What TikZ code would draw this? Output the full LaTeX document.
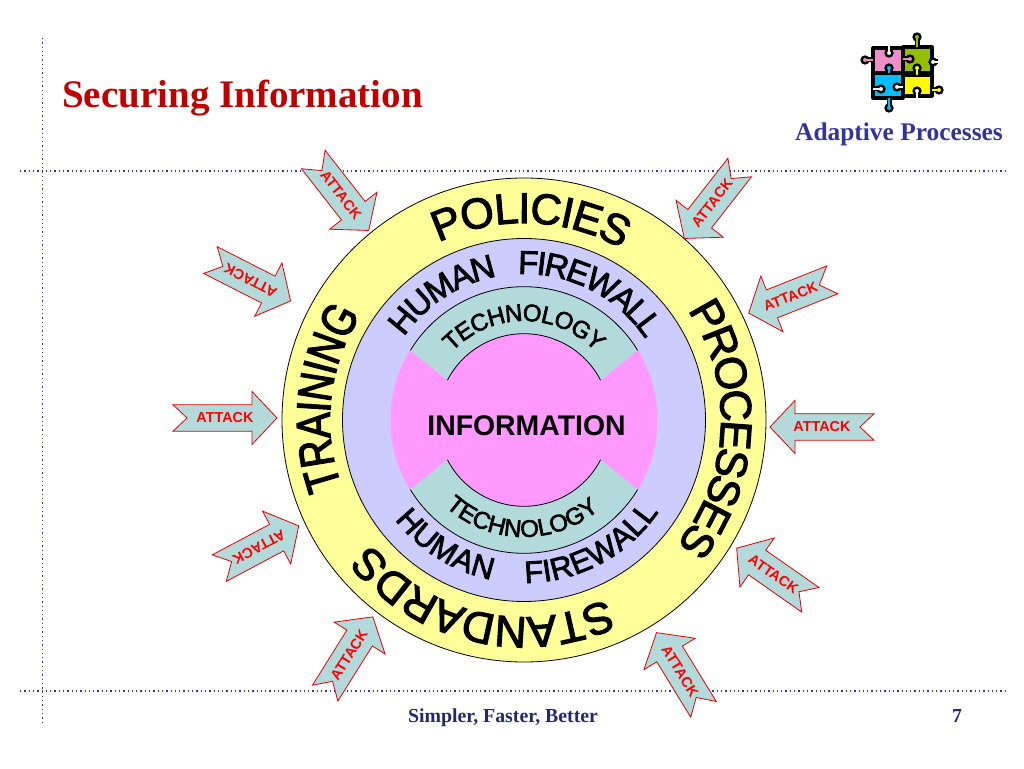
\documentclass[tikz,border=0pt]{standalone}
\usepackage{fontspec}
\setmainfont{Liberation Serif}
\newfontfamily\labelfont{Liberation Sans}
\newfontfamily\ringfont[FakeBold=2.5]{Liberation Sans}
\newfontfamily\ringnarrow[FakeBold=2.5,FakeStretch=0.8]{Liberation Sans}
\usepackage{xcolor}
\usetikzlibrary{calc}
\definecolor{titlered}{RGB}{192,0,0}
\definecolor{slateblue}{RGB}{51,51,153}
\definecolor{footblue}{RGB}{38,38,110}
\definecolor{ringyellow}{RGB}{255,255,153}
\definecolor{ringlav}{RGB}{204,204,255}
\definecolor{corepink}{RGB}{255,153,255}
\definecolor{techteal}{RGB}{178,218,218}
\definecolor{puzpink}{RGB}{240,140,200}
\definecolor{puzgreen}{RGB}{150,190,0}
\definecolor{puzblue}{RGB}{0,190,250}
\definecolor{puzyellow}{RGB}{255,250,0}
\tikzset{
  dotline/.style={slateblue, line width=1.3pt, dash pattern=on 1.3pt off 3pt},
  ring/.style={draw=black, line width=0.8pt},
  attackbody/.style={draw=red!90!black, fill=techteal, line width=0.8pt, line join=miter},
  attacklabel/.style={text=red, font=\labelfont\bfseries\fontsize{14.4}{15}\selectfont, inner sep=0pt},
  piece/.style={draw=black, line width=3.2pt, line join=round},
  knob/.style={draw=black, line width=2.4pt},
}
% letters set one by one round the rings:
% name, radius, middle angle, sign (1 clockwise, -1 counter), size, tracking, letters
\newlength{\ringw}
\newcommand{\ringmeasure}[2]{%
  \settowidth{\ringw}{\pgfinterruptpicture\ringfont\fontsize{#1}{#1}\selectfont #2\endpgfinterruptpicture}}
\newcommand{\ringword}[7]{
  \gdef\ringtotal{0}
  \foreach \ch in {#7} {
    \ringmeasure{#5}{\ch}
    \pgfmathsetmacro{\ringnext}{\ringtotal+\ringw+#6}
    \xdef\ringtotal{\ringnext}
  }
  \gdef\ringpos{0}
  \foreach \ch [count=\i] in {#7} {
    \ringmeasure{#5}{\ch}
    \pgfmathsetmacro{\ringang}{#3-#4*(\ringpos+(\ringw+#6)/2-\ringtotal/2)/#2*57.296}
    \pgfmathsetmacro{\ringrot}{\ringang-#4*90}
    \node[anchor=base, inner sep=0pt, rotate=\ringrot, font=\ringfont\fontsize{#5}{#5}\selectfont]
      (#1\i) at ($(524,348)+(\ringang:#2)$) {\ch};
    \pgfmathsetmacro{\ringnext}{\ringpos+\ringw+#6}
    \xdef\ringpos{\ringnext}
  }
}
\begin{document}
\begin{tikzpicture}[x=1pt,y=1pt]
  \useasboundingbox (0,0) rectangle (1024,768);

  % frame lines
  \coordinate (vtop) at (42.7,730);
  \coordinate (vbot) at (42.7,46);
  \coordinate (upl) at (20,597);
  \coordinate (upr) at (1008,597);
  \coordinate (lowl) at (20,77);
  \coordinate (lowr) at (1008,77);
  \draw[dotline] (vtop) -- (vbot);
  \draw[dotline] (upl) -- (upr);
  \draw[dotline] (lowl) -- (lowr);

  % texts of the slide
  \node[anchor=base west, inner sep=0pt, text=titlered, font=\bfseries\fontsize{39}{42}\selectfont] (title) at (62,660) {Securing Information};
  \node[anchor=base east, inner sep=0pt, text=slateblue, font=\bfseries\fontsize{25.4}{28}\selectfont] (adaptive) at (1003,627) {Adaptive Processes};
  \node[anchor=base, inner sep=0pt, text=footblue, font=\bfseries\fontsize{19.8}{22}\selectfont] (motto) at (503,46) {Simpler, Faster, Better};
  \node[anchor=base, inner sep=0pt, text=footblue, font=\bfseries\fontsize{19.8}{22}\selectfont] (pageno) at (957,46) {7};

  % puzzle
  \draw[piece, fill=puzpink] (873,695) rectangle (903,720);
  \draw[piece, fill=puzgreen] (903,695) rectangle (932,721);
  \draw[piece, fill=puzblue] (873,670) rectangle (903,695);
  \draw[piece, fill=puzyellow] (903,672) rectangle (932,693);
  \foreach \kx/\ky/\nx/\ny/\kcol in {917/731/917/721/puzgreen, 865/708/873/708/puzpink,
      939/678/932/678/puzyellow, 889/660/889/670/puzblue, 910/709/903/709/puzpink,
      889/700/889/695/puzblue, 917/700/917/693/puzyellow, 889/715/889/722/white,
      917/677/917/670/white, 881/679/873/679/white, 897/681/903/681/white, 933/706/938/706/white} {
    \draw[black, line width=5pt] (\nx,\ny) -- (\kx,\ky);
    \draw[knob, fill=\kcol] (\kx,\ky) circle (3.4);
    \draw[\kcol, line width=1.6pt] (\nx,\ny) -- (\kx,\ky);
  }

  % rings
  \draw[ring, fill=ringyellow] (524,348) circle (242);
  \draw[ring, fill=ringlav] (524,348) circle (181.5);
  \fill[corepink] (524,348) circle (133.5);

  % technology bands
  \fill[techteal] (524,348) ++(31.5:133.3) arc[start angle=31.5, end angle=148.5, radius=133.3]
    -- ($(524,348)+(152.5:86.3)$) arc[start angle=152.5, end angle=27.5, radius=86.3] -- cycle;
  \draw[ring] (524,348) ++(31.5:133.3) arc[start angle=31.5, end angle=148.5, radius=133.3];
  \draw[ring] (524,348) ++(27.5:86.3) arc[start angle=27.5, end angle=152.5, radius=86.3];
  \fill[techteal] (524,348) ++(-31.5:133.3) arc[start angle=-31.5, end angle=-148.5, radius=133.3]
    -- ($(524,348)+(-152.5:86.3)$) arc[start angle=-152.5, end angle=-27.5, radius=86.3] -- cycle;
  \draw[ring] (524,348) ++(-31.5:133.3) arc[start angle=-31.5, end angle=-148.5, radius=133.3];
  \draw[ring] (524,348) ++(-27.5:86.3) arc[start angle=-27.5, end angle=-152.5, radius=86.3];

  \node[inner sep=0pt, font=\labelfont\bfseries\fontsize{28.4}{30}\selectfont] (info) at (526.5,342) {INFORMATION};

  \ringword{pol}{197}{88}{1}{43}{-1.1}{P,O,L,I,C,I,E,S}
  \ringword{pro}{197}{-2.7}{1}{44}{-2.8}{P,R,O,C,E,S,S,E,S}
  \begin{scope}
    \let\ringfont\ringnarrow
    \ringword{tra}{194}{173.6}{1}{48}{-0.7}{T,R,A,I,N,I,N,G}
  \end{scope}
  \ringword{sta}{197}{-103.2}{1}{44}{-1.3}{S,T,A,N,D,A,R,D,S}
  \ringword{humt}{146}{123}{1}{33}{-1.8}{H,U,M,A,N}
  \ringword{firt}{146}{63}{1}{33}{-2.2}{F,I,R,E,W,A,L,L}
  \ringword{humb}{163}{238}{-1}{31}{0.5}{H,U,M,A,N}
  \ringword{firb}{163}{298}{-1}{31}{0.3}{F,I,R,E,W,A,L,L}
  \ringword{tect}{99}{90}{1}{24}{-0.8}{T,E,C,H,N,O,L,O,G,Y}
  \ringword{tecb}{117}{269}{-1}{24}{0}{T,E,C,H,N,O,L,O,G,Y}

  % attack arrows
  \foreach \name/\cx/\cy/\rot/\len/\hw/\tang in {
      atkA/341/573/-52/90/30/-52, atkB/250.5/487.5/-27/90/30/153,
      atkC/225/350/0/104/26.5/0, atkD/259/221/28/90/30/208,
      atkE/349/113/58/90/30/58, atkF/680/97/121.5/90/30/-58.5,
      atkG/773.5/194/145/90/30/-35, atkH/822/341/180/104/26.5/0,
      atkI/790.5/471.5/201.7/90/30/21.7, atkJ/712/565/232/90/30/52} {
    \begin{scope}[shift={(\cx,\cy)}, rotate=\rot]
      \draw[attackbody] ({-\len/2},{\hw/2}) -- ({\len/2-25},{\hw/2}) -- ({\len/2-25},\hw)
        -- ({\len/2},0) -- ({\len/2-25},{-\hw}) -- ({\len/2-25},{-\hw/2})
        -- ({-\len/2},{-\hw/2}) -- ({-\len/2+14},0) -- cycle;
    \end{scope}
    \node[attacklabel, rotate=\tang] (\name) at (\cx,\cy) {ATTACK};
  }
\end{tikzpicture}
\end{document}
